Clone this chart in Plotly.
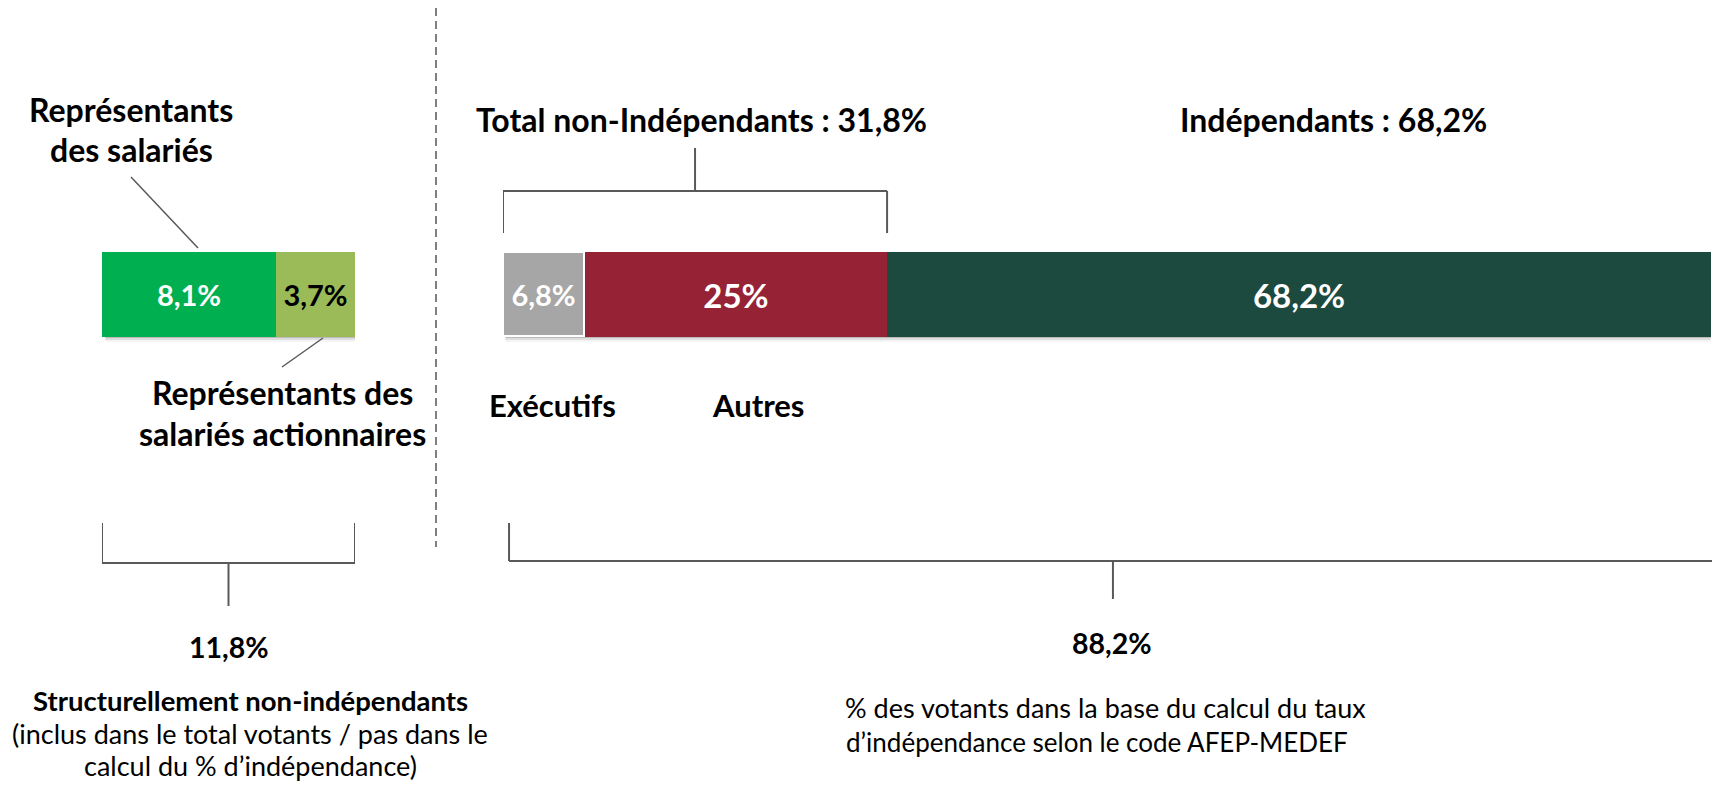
import plotly.graph_objects as go

W, H = 1712, 785

# ---------------- data ----------------
left_categories = ["Représentants des salariés", "Représentants des salariés actionnaires"]
left_values = [8.1, 3.7]
left_colors = ["#00B050", "#9BBB59"]
left_text_colors = ["#FFFFFF", "#000000"]

right_categories = ["Exécutifs", "Autres", "Indépendants"]
right_values = [6.8, 25.0, 68.2]
right_colors = ["#A6A6A6", "#962236", "#1C4A3F"]
right_text_colors = ["#FFFFFF", "#FFFFFF", "#FFFFFF"]


def fmt(v):
    s = f"{v:.1f}"
    if s.endswith(".0"):
        s = s[:-2]
    return s.replace(".", ",") + "%"


left_total = sum(left_values)                        # 11,8 %
non_indep_total = right_values[0] + right_values[1]  # 31,8 %
indep_total = right_values[2]                        # 68,2 %
base_total = 100 - left_total                        # 88,2 %

FONT = "Lato, 'Open Sans', sans-serif"
LINE = "#595959"


def px(x):
    return x / W


def py(y):
    return 1 - y / H


fig = go.Figure()

for i, v in enumerate(left_values):
    fig.add_trace(go.Bar(
        x=[v], y=[0], orientation="h", width=[1],
        xaxis="x", yaxis="y",
        name=left_categories[i],
        marker=dict(color=left_colors[i], line=dict(width=0)),
        text=[fmt(v)], textposition="inside", insidetextanchor="middle",
        textfont=dict(family=FONT, size=29, color=left_text_colors[i], weight="bold"),
        hoverinfo="skip", showlegend=False,
    ))

right_sizes = [29, 33, 33]
for i, v in enumerate(right_values):
    line = dict(color="#FFFFFF", width=3) if i == 0 else dict(width=0)
    fig.add_trace(go.Bar(
        x=[v], y=[0], orientation="h", width=[1],
        xaxis="x2", yaxis="y",
        name=right_categories[i],
        marker=dict(color=right_colors[i], line=line),
        text=[fmt(v)], textposition="inside", insidetextanchor="middle",
        textfont=dict(family=FONT, size=right_sizes[i], color=right_text_colors[i], weight="bold"),
        hoverinfo="skip", showlegend=False,
    ))

BAR_TOP, BAR_BOT = 252, 337

shapes = []
# soft shadows below bars
for k, a in enumerate([0.16, 0.09, 0.04]):
    shapes.append(dict(type="rect", xref="x", yref="paper", x0=0.15, x1=left_total,
                       y0=py(BAR_BOT + 1 + 2 * k), y1=py(BAR_BOT - 1),
                       fillcolor=f"rgba(0,0,0,{a})", line=dict(width=0), layer="below"))
    shapes.append(dict(type="rect", xref="x2", yref="paper", x0=0.2, x1=100,
                       y0=py(BAR_BOT + 1 + 2 * k), y1=py(BAR_BOT - 1),
                       fillcolor=f"rgba(0,0,0,{a})", line=dict(width=0), layer="below"))


def seg(x0, y0, x1, y1, color=LINE, width=2, dash=None, xref="paper"):
    d = dict(type="line", xref=xref, yref="paper",
             x0=x0 if xref != "paper" else px(x0), x1=x1 if xref != "paper" else px(x1),
             y0=py(y0), y1=py(y1), line=dict(color=color, width=width))
    if dash:
        d["line"]["dash"] = dash
    shapes.append(d)


# dashed separator
seg(436, 8, 436, 547, color="#7F7F7F", width=2, dash="8px,5px")

# leader lines
seg(131, 177, 198, 248, color="#595959", width=1.5)
seg(323, 338, 282, 367, color="#595959", width=1.5)

# top bracket over non-independent part (data coords on x2)
seg(0, 191, non_indep_total, 191, xref="x2")
seg(0, 191, 0, 233, xref="x2")
seg(non_indep_total, 191, non_indep_total, 233, xref="x2")
seg(non_indep_total / 2, 148, non_indep_total / 2, 191, xref="x2")

# bottom-left bracket (x coords)
seg(0, 563, left_total, 563, xref="x")
seg(0, 523, 0, 563, xref="x")
seg(left_total, 523, left_total, 563, xref="x")
seg(left_total / 2, 563, left_total / 2, 606, xref="x")

# bottom-right bracket (x2 coords)
seg(0.5, 561, 101, 561, xref="x2")
seg(0.5, 523, 0.5, 561, xref="x2")
seg(50.5, 561, 50.5, 599, xref="x2")

annotations = []


def ann(text, x, y, size, bold=True, color="#000000"):
    annotations.append(dict(
        text=text, x=px(x), y=py(y), xref="paper", yref="paper",
        xanchor="center", yanchor="middle", showarrow=False, align="center",
        font=dict(family=FONT, size=size, color=color, weight="bold" if bold else "normal"),
    ))


ann("Représentants", 131, 110, 32)
ann("des salariés", 131, 150, 32)
ann("Représentants des", 282, 392, 32)
ann("salariés actionnaires", 282, 433, 32)
ann(f"Total non-Indépendants : {fmt(non_indep_total)}", 701, 120, 32)
ann(f"{right_categories[2]} : {fmt(indep_total)}", 1333, 120, 32)
ann(right_categories[0], 552, 405, 31)
ann(right_categories[1], 758, 405, 31)
ann(fmt(left_total), 229, 647, 28.5)
ann("Structurellement non-indépendants", 250, 700, 27.5)
ann("(inclus dans le total votants / pas dans le", 250, 733, 27, bold=False)
ann("calcul du % d’indépendance)", 250, 765, 27, bold=False)
ann(fmt(base_total), 1112, 643, 28.5)
ann("% des votants dans la base du calcul du taux", 1105, 707, 27, bold=False)
ann("d’indépendance selon le code AFEP-MEDEF", 1097, 742, 26, bold=False)

fig.update_layout(
    width=W, height=H,
    margin=dict(l=0, r=0, t=0, b=0),
    paper_bgcolor="#FFFFFF", plot_bgcolor="rgba(0,0,0,0)",
    barmode="stack", bargap=0,
    showlegend=False,
    xaxis=dict(domain=[px(102), px(355)], range=[0, left_total], visible=False, fixedrange=True),
    xaxis2=dict(domain=[px(503), 1], range=[0, 100.1], visible=False, anchor="y", fixedrange=True),
    yaxis=dict(domain=[py(BAR_BOT), py(BAR_TOP)], range=[-0.5, 0.5], visible=False, fixedrange=True),
    shapes=shapes,
    annotations=annotations,
    uniformtext=dict(mode=False),
)

fig.write_html(
    "out.html",
    config={"displayModeBar": False},
    post_script="document.body.style.margin='0';document.body.style.padding='0';"
                "document.body.style.overflow='hidden';",
)
